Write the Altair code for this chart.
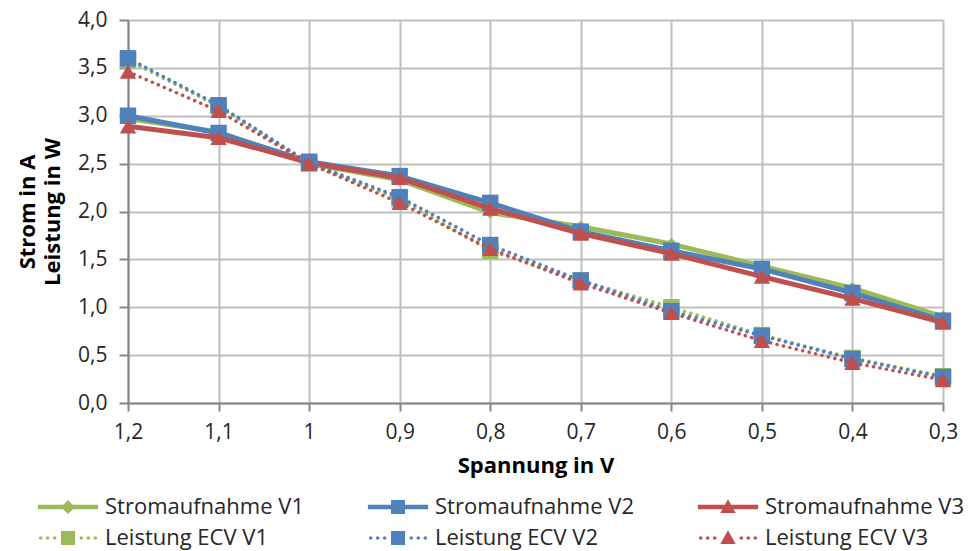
import altair as alt
import pandas as pd

cats = ["1,2", "1,1", "1", "0,9", "0,8", "0,7", "0,6", "0,5", "0,4", "0,3"]
series_names = ["Stromaufnahme V1", "Stromaufnahme V2", "Stromaufnahme V3",
                "Leistung ECV V1", "Leistung ECV V2", "Leistung ECV V3"]
strom_v1 = [2.97, 2.83, 2.50, 2.33, 1.99, 1.84, 1.66, 1.43, 1.20, 0.90]
strom_v2 = [3.00, 2.82, 2.52, 2.37, 2.09, 1.79, 1.59, 1.40, 1.15, 0.86]
strom_v3 = [2.89, 2.77, 2.51, 2.35, 2.03, 1.77, 1.56, 1.32, 1.09, 0.84]
leist_v1 = [3.58, 3.10, 2.50, 2.13, 1.59, 1.28, 1.00, 0.71, 0.47, 0.28]
leist_v2 = [3.60, 3.11, 2.51, 2.15, 1.65, 1.28, 0.96, 0.70, 0.46, 0.27]
leist_v3 = [3.46, 3.05, 2.50, 2.09, 1.61, 1.25, 0.94, 0.65, 0.42, 0.24]
y_ticks = [0, 0.5, 1, 1.5, 2, 2.5, 3, 3.5, 4]

GREEN, BLUE, RED = "#9BBB59", "#4F81BD", "#C0504D"
colors = [GREEN, BLUE, RED, GREEN, BLUE, RED]
shapes = ["diamond", "square", "triangle-up", "square", "square", "triangle-up"]
sizes = [160, 270, 270, 270, 270, 270]
dashed = [False, False, False, True, True, True]
values = [strom_v1, strom_v2, strom_v3, leist_v1, leist_v2, leist_v3]

rows = []
for name, vals in zip(series_names, values):
    for c, v in zip(cats, vals):
        rows.append({"cat": c, "series": name, "value": v})
df = pd.DataFrame(rows)

FONT = "Open Sans"
GRID = "#BFBFBF"
AXIS = "#868686"

x_enc = alt.X("cat:O", sort=cats, scale=alt.Scale(type="point", padding=0),
              axis=alt.Axis(title="Spannung in V", labelAngle=0, grid=True,
                            gridColor=GRID, gridWidth=2, domainColor=AXIS, domainWidth=2,
                            tickColor=AXIS, tickWidth=2, tickSize=8, labelFontSize=21,
                            labelPadding=10, labelColor="#262626", labelFont=FONT,
                            titleFont=FONT, titleFontSize=22, titleFontWeight="bold",
                            titleColor="#000000", titlePadding=13))
y_enc = alt.Y("value:Q", scale=alt.Scale(domain=[0, 4], nice=False, zero=True),
              axis=alt.Axis(title=["Strom in A", "Leistung in W"], values=y_ticks,
                            labelExpr="replace(format(datum.value, '.1f'), '.', ',')",
                            grid=True, gridColor=GRID, gridWidth=2, domainColor=AXIS,
                            domainWidth=2, tickColor=AXIS, tickWidth=2, tickSize=9,
                            labelFontSize=21, labelPadding=12, labelColor="#262626",
                            labelFont=FONT, titleFont=FONT, titleFontSize=22,
                            titleFontWeight="bold", titleColor="#000000",
                            titlePadding=13, titleLineHeight=25))

base = alt.Chart(df)
layers = []
for i, name in enumerate(series_names):
    sub = base.transform_filter(alt.datum.series == name)
    line_kwargs = dict(color=colors[i], strokeWidth=5 if not dashed[i] else 3.5,
                       strokeCap="round", strokeJoin="round")
    if dashed[i]:
        line_kwargs["strokeDash"] = [0.1, 6.5]
    layers.append(sub.mark_line(**line_kwargs).encode(x=x_enc, y=y_enc))
    layers.append(sub.mark_point(filled=True, shape=shapes[i], size=sizes[i],
                                 color=colors[i], opacity=1).encode(x=x_enc, y=y_enc))


def dots(xs):
    p = ""
    for x in xs:
        p += f"M{x-0.25},0 A0.25,0.25 0 1,1 {x+0.25},0 A0.25,0.25 0 1,1 {x-0.25},0 Z "
    return p

solid_line = "M-4.3,-0.33 L4.3,-0.33 L4.3,0.33 L-4.3,0.33 Z "
dot_line = dots([-3.9, -2.9, -1.9, 1.9, 2.9, 3.9])
diamond = "M0,-1 L1,0 L0,1 L-1,0 Z"
square = "M-1,-1 L1,-1 L1,1 L-1,1 Z"
tri = "M0,-1.1 L1.1,0.85 L-1.1,0.85 Z"
legend_paths = [solid_line + diamond, solid_line + square, solid_line + tri,
                dot_line + square, dot_line + square, dot_line + tri]

legend_df = pd.DataFrame({"series": series_names})
legend_layer = alt.Chart(legend_df).transform_filter("false").mark_point(
    filled=True, opacity=1).encode(
    color=alt.Color("series:N", scale=alt.Scale(domain=series_names, range=colors),
                    legend=alt.Legend(title=None, orient="none", legendX=-71, legendY=476,
                                      columns=3, direction="horizontal",
                                      symbolSize=196, labelFontSize=22, labelFont=FONT,
                                      labelColor="#262626", labelOffset=26,
                                      columnPadding=63, rowPadding=9, labelLimit=400,
                                      symbolStrokeWidth=0)),
    shape=alt.Shape("series:N", scale=alt.Scale(domain=series_names, range=legend_paths)),
)
layers.append(legend_layer)

chart = alt.layer(*layers).properties(
    width=815, height=383,
    autosize=alt.AutoSizeParams(type="none"),
    padding={"left": 128, "top": 20, "right": 28, "bottom": 148},
    background="white",
).configure_view(stroke=None)

chart.save("out.html", embed_options={"renderer": "svg", "actions": False})
